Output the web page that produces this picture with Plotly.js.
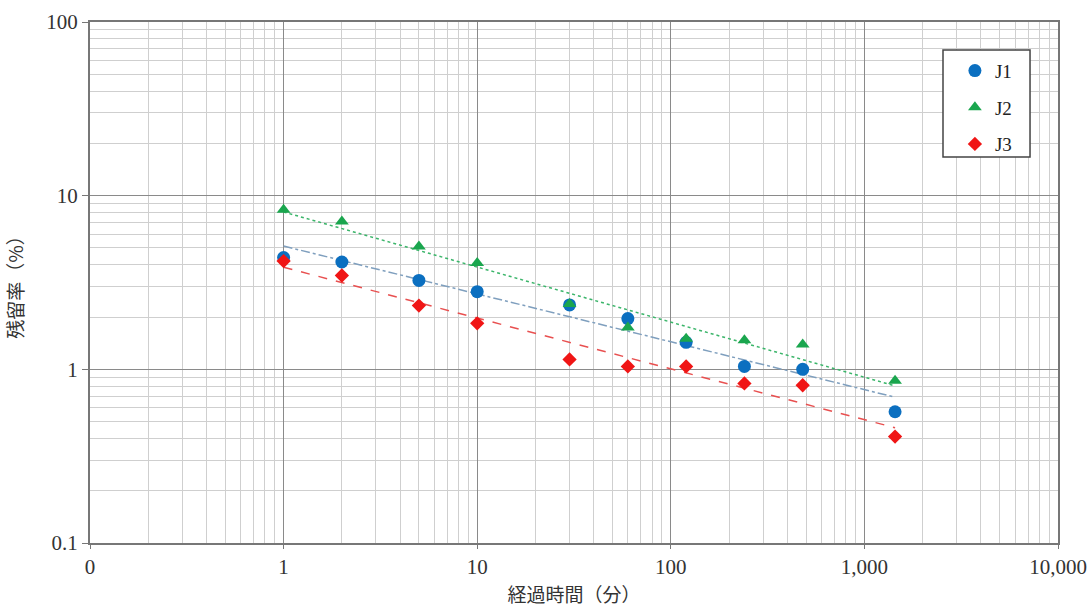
<!DOCTYPE html>
<html>
<head>
<meta charset="utf-8">
<script src="https://cdn.plot.ly/plotly-3.0.1.min.js"></script>
<style>
  html, body { margin: 0; padding: 0; background: #fff; }
  #chart { width: 1090px; height: 607px; }
</style>
</head>
<body>
<div id="chart"></div>
<script>
// Elapsed time (minutes) and residual rate (%) per sample
const minutes = [1, 2, 5, 10, 30, 60, 120, 240, 480, 1440];
const j1 = [4.4, 4.15, 3.25, 2.8, 2.35, 1.96, 1.43, 1.04, 1.0, 0.57];
const j2 = [8.3, 7.1, 5.1, 4.1, 2.38, 1.74, 1.5, 1.47, 1.39, 0.86];
const j3 = [4.2, 3.47, 2.33, 1.84, 1.14, 1.04, 1.04, 0.83, 0.81, 0.41];

const seriesNames = ['J1', 'J2', 'J3'];

// Axis ticks
const xTickVals = [0.1, 1, 10, 100, 1000, 10000];
const xTickText = ['0', '1', '10', '100', '1,000', '10,000'];
const yTickVals = [0.1, 1, 10, 100];
const yTickText = ['0.1', '1', '10', '100'];

// Power-law trendline (least squares in log-log space)
function powerFit(xs, ys) {
  const lx = xs.map(Math.log10), ly = ys.map(Math.log10);
  const n = lx.length;
  const mx = lx.reduce((a, b) => a + b, 0) / n;
  const my = ly.reduce((a, b) => a + b, 0) / n;
  let sxy = 0, sxx = 0;
  for (let i = 0; i < n; i++) {
    sxy += (lx[i] - mx) * (ly[i] - my);
    sxx += (lx[i] - mx) * (lx[i] - mx);
  }
  const b = sxy / sxx, a = my - b * mx;
  const x0 = xs[0], x1 = xs[n - 1];
  return { x: [x0, x1], y: [Math.pow(10, a) * Math.pow(x0, b), Math.pow(10, a) * Math.pow(x1, b)] };
}

// Minor grid positions 2..9 within each decade
function minorVals(lo, hi) {
  const v = [];
  for (let e = lo; e < hi; e++) for (let k = 2; k <= 9; k++) v.push(k * Math.pow(10, e));
  return v;
}

const styles = [
  { color: '#0b6fc0', symbol: 'circle', size: 13, line: { color: '#7f9fbe', dash: 'dashdot', width: 1.5 } },
  { color: '#1aa64e', symbol: 'triangle-up', size: 12, line: { color: '#3bb56a', dash: 'dot', width: 1.5 } },
  { color: '#f01515', symbol: 'diamond', size: 11, line: { color: '#e85050', dash: 'dash', width: 1.5 } }
];
const dataSets = [j1, j2, j3];

const traces = [];
dataSets.forEach((ys, i) => {
  const fit = powerFit(minutes, ys);
  traces.push({
    x: fit.x, y: fit.y, mode: 'lines', type: 'scatter',
    line: styles[i].line, showlegend: false, hoverinfo: 'skip'
  });
});
dataSets.forEach((ys, i) => {
  traces.push({
    x: minutes, y: ys, mode: 'markers', type: 'scatter', name: seriesNames[i],
    legendgroup: 'g' + i,
    marker: { color: styles[i].color, symbol: styles[i].symbol, size: styles[i].size }
  });
});

const tickFont = { family: 'Liberation Serif, DejaVu Serif, serif', size: 21, color: '#333' };
const titleFont = { family: 'Noto Sans CJK JP, sans-serif', size: 19, color: '#333' };

const layout = {
  width: 1090, height: 607,
  margin: { l: 90, r: 32, t: 22, b: 64 },
  paper_bgcolor: '#fff', plot_bgcolor: '#fff',
  showlegend: true,
  // legend frame
  shapes: [{
    type: 'rect', xref: 'paper', yref: 'paper', layer: 'above',
    x0: 0.8812, x1: 0.9711, y0: 0.7409, y1: 0.9463,
    fillcolor: '#fff', line: { color: '#444', width: 1.5 }
  }],
  legend: {
    x: 0.8935, y: 0.943, xanchor: 'left', yanchor: 'top',
    bgcolor: 'rgba(0,0,0,0)', borderwidth: 0,
    font: { family: 'Liberation Serif, serif', size: 19, color: '#222' },
    tracegroupgap: 9, itemwidth: 30
  },
  xaxis: {
    type: 'log', range: [-1, 4],
    tickmode: 'array', tickvals: xTickVals, ticktext: xTickText,
    tickfont: tickFont, ticks: 'outside', ticklen: 4, tickcolor: '#777',
    showgrid: true, gridcolor: '#8a8a8a', gridwidth: 1,
    minor: { tickmode: 'array', tickvals: minorVals(-1, 4), showgrid: true, gridcolor: '#cfcfcf', gridwidth: 1, ticks: '' },
    showline: true, linecolor: '#777', linewidth: 2, mirror: true,
    zeroline: false,
    title: { text: '経過時間（分）', font: titleFont, standoff: 12 }
  },
  yaxis: {
    type: 'log', range: [-1, 2],
    tickmode: 'array', tickvals: yTickVals, ticktext: yTickText,
    tickfont: tickFont, ticks: 'outside', ticklen: 6, tickcolor: '#777',
    showgrid: true, gridcolor: '#8a8a8a', gridwidth: 1,
    minor: { tickmode: 'array', tickvals: minorVals(-1, 2), showgrid: true, gridcolor: '#cfcfcf', gridwidth: 1, ticks: '' },
    showline: true, linecolor: '#777', linewidth: 2, mirror: true,
    zeroline: false,
    title: { text: '残留率（%）', font: titleFont, standoff: 18 }
  }
};

Plotly.newPlot('chart', traces, layout, { displayModeBar: false, staticPlot: true });
</script>
</body>
</html>
